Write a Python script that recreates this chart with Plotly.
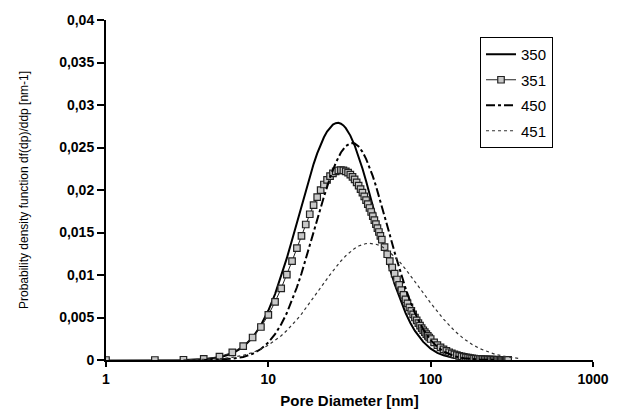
import plotly.graph_objects as go

# ---- data ----
d350 = [3, 4, 5, 6, 7, 8, 9, 10, 11, 12, 13, 14, 15, 16, 17, 18, 19, 20, 21, 22, 23, 24, 25, 26, 27, 28, 29, 30,
        32, 34, 36, 38, 40, 42, 44, 46, 48, 50, 55, 60, 65, 70, 75, 80, 90, 100, 110, 120, 140, 160, 200, 250]
f350 = [0.00001, 0.00008, 0.00030, 0.00075, 0.00153, 0.00264, 0.00409, 0.00582, 0.00776, 0.00984, 0.01198,
        0.01413, 0.01621, 0.01817, 0.01998, 0.02161, 0.02305, 0.02430, 0.02535, 0.02620, 0.02687, 0.02736,
        0.02769, 0.02786, 0.02790, 0.02780, 0.02760, 0.02728, 0.02640, 0.02526, 0.02394, 0.02253, 0.02106,
        0.01958, 0.01813, 0.01672, 0.01537, 0.01410, 0.01127, 0.00893, 0.00704, 0.00554, 0.00435, 0.00342,
        0.00213, 0.00133, 0.00084, 0.00054, 0.00023, 0.00010, 0.00002, 0.00000]

d351 = list(range(1, 51)) + list(range(52, 101, 2)) + list(range(105, 301, 5))
f351 = [0.00000, 0.00000, 0.00003, 0.00013, 0.00040, 0.00089, 0.00164, 0.00265, 0.00388, 0.00530,
        0.00683, 0.00843, 0.01004, 0.01163, 0.01316, 0.01461, 0.01594, 0.01715, 0.01821, 0.01917,
        0.01998, 0.02065, 0.02120, 0.02164, 0.02196, 0.02218, 0.02231, 0.02235, 0.02231, 0.02220,
        0.02204, 0.02181, 0.02154, 0.02124, 0.02089, 0.02051, 0.02011, 0.01969, 0.01926, 0.01880,
        0.01834, 0.01788, 0.01741, 0.01693, 0.01646, 0.01599, 0.01552, 0.01506, 0.01460, 0.01416,
        # 52..100 step 2
        0.01328, 0.01244, 0.01164, 0.01088, 0.01016, 0.00947, 0.00883, 0.00822, 0.00766, 0.00714,
        0.00666, 0.00620, 0.00577, 0.00537, 0.00500, 0.00466, 0.00434, 0.00404, 0.00376, 0.00350,
        0.00327, 0.00305, 0.00284, 0.00265, 0.00247,
        # 105..300 step 5
        0.00208, 0.00176, 0.00148, 0.00126, 0.00107, 0.00091, 0.00078, 0.00066, 0.00057, 0.00049,
        0.00042, 0.00036, 0.00031, 0.00027, 0.00023, 0.00020, 0.00017, 0.00015, 0.00013, 0.00012,
        0.00010, 0.00009, 0.00008, 0.00007, 0.00006, 0.00005, 0.00005, 0.00004, 0.00004, 0.00003,
        0.00003, 0.00003, 0.00002, 0.00002, 0.00002, 0.00002, 0.00001, 0.00001, 0.00001, 0.00001]

d450 = [4, 5, 6, 7, 8, 9, 10, 11, 12, 13, 14, 15, 16, 17, 18, 19, 20, 22, 24, 26, 28, 30, 32, 33, 34, 36, 38,
        40, 42, 44, 46, 48, 50, 55, 60, 65, 70, 75, 80, 90, 100, 110, 120, 140, 160, 200, 250]
f450 = [0.00001, 0.00005, 0.00015, 0.00036, 0.00073, 0.00129, 0.00206, 0.00303, 0.00420, 0.00553, 0.00700,
        0.00856, 0.01017, 0.01181, 0.01342, 0.01499, 0.01649, 0.01920, 0.02145, 0.02318, 0.02441, 0.02517,
        0.02550, 0.02553, 0.02547, 0.02511, 0.02449, 0.02367, 0.02270, 0.02163, 0.02049, 0.01932, 0.01814,
        0.01527, 0.01266, 0.01038, 0.00845, 0.00685, 0.00553, 0.00360, 0.00234, 0.00153, 0.00100, 0.00044,
        0.00020, 0.00005, 0.00001]

d451 = [3, 4, 5, 6, 7, 8, 9, 10, 11, 12, 13, 14, 15, 16, 18, 20, 22, 24, 26, 28, 30, 32, 34, 36, 38, 40, 42,
        44, 46, 48, 50, 55, 60, 65, 70, 75, 80, 90, 100, 110, 120, 140, 160, 180, 200, 250, 300, 350]
f451 = [0.00001, 0.00005, 0.00015, 0.00031, 0.00055, 0.00088, 0.00128, 0.00175, 0.00228, 0.00286, 0.00347,
        0.00411, 0.00476, 0.00541, 0.00670, 0.00792, 0.00904, 0.01004, 0.01091, 0.01165, 0.01226, 0.01275,
        0.01313, 0.01341, 0.01359, 0.01370, 0.01373, 0.01370, 0.01362, 0.01350, 0.01334, 0.01281, 0.01216,
        0.01145, 0.01070, 0.00996, 0.00925, 0.00790, 0.00670, 0.00568, 0.00481, 0.00345, 0.00250, 0.00183,
        0.00135, 0.00066, 0.00035, 0.00019]

series_names = ["350", "351", "450", "451"]
x_tickvals = [1, 10, 100, 1000]
x_ticktext = ["1", "10", "100", "1000"]
y_tickvals = [0, 0.005, 0.01, 0.015, 0.02, 0.025, 0.03, 0.035, 0.04]
y_ticktext = ["0", "0,005", "0,01", "0,015", "0,02", "0,025", "0,03", "0,035", "0,04"]

FONT = "Liberation Sans, Arial, sans-serif"

fig = go.Figure()
fig.add_trace(go.Scatter(x=d350, y=f350, mode="lines", name=series_names[0], legendgroup="a",
                         line=dict(color="black", width=2)))
fig.add_trace(go.Scatter(x=d351, y=f351, mode="lines+markers", name=series_names[1], legendgroup="b",
                         line=dict(color="#222222", width=1),
                         marker=dict(symbol="square", size=6.5, color="#c8c8c8",
                                     line=dict(color="#222222", width=1.2))))
fig.add_trace(go.Scatter(x=d450, y=f450, mode="lines", name=series_names[2], legendgroup="c",
                         line=dict(color="black", width=2, dash="dashdot")))
fig.add_trace(go.Scatter(x=d451, y=f451, mode="lines", name=series_names[3], legendgroup="d",
                         line=dict(color="#333333", width=1.2, dash="dot")))

fig.update_layout(
    width=636, height=418,
    margin=dict(l=106, r=43, t=20, b=58),
    paper_bgcolor="white", plot_bgcolor="white",
    font=dict(family=FONT, color="black"),
    legend=dict(x=0.768, y=0.95, xanchor="left", yanchor="top",
                bordercolor="black", borderwidth=1, bgcolor="white",
                font=dict(size=15, family=FONT), tracegroupgap=3,
                itemwidth=30),
    xaxis=dict(type="log", range=[0, 3], tickvals=x_tickvals, ticktext=x_ticktext,
               showgrid=False, zeroline=False, showline=True, linecolor="black", linewidth=2,
               ticks="outside", ticklen=5, tickwidth=2, tickcolor="black", automargin=False,
               tickfont=dict(size=14, family=FONT, weight="bold"),
               title=dict(text="<b>Pore Diameter [nm]</b>", font=dict(size=15, family=FONT), standoff=10)),
    yaxis=dict(range=[0, 0.04], tickvals=y_tickvals, ticktext=y_ticktext,
               showgrid=False, zeroline=False, showline=True, linecolor="black", linewidth=2,
               ticks="outside", ticklen=7, tickwidth=2, tickcolor="black", automargin=False,
               tickfont=dict(size=14, family=FONT, weight="bold"),
               title=dict(text="Probability density function df(dp)/ddp [nm-1]",
                          font=dict(size=12, family=FONT), standoff=28)),
)

fig.write_html("out.html")
